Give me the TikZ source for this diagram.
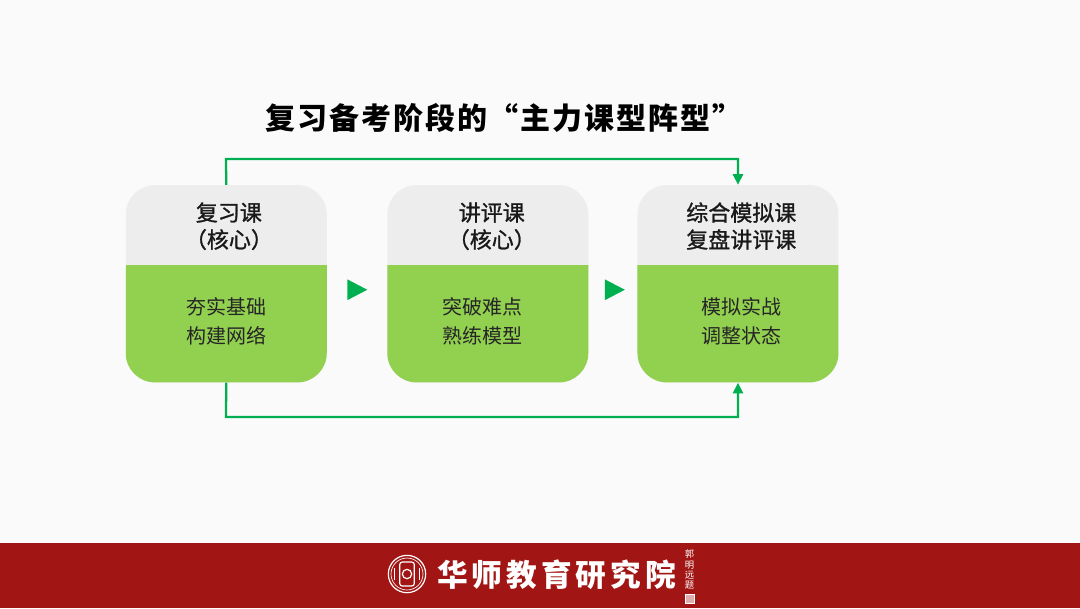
\documentclass[tikz,border=0pt]{standalone}
\usepackage{fontspec}
\usepackage{xcolor}
\setmainfont{Noto Sans CJK SC}
\newfontfamily\headfont[FakeBold=1.2]{Noto Sans CJK SC}
\usetikzlibrary{arrows.meta, shapes.geometric, positioning}
\definecolor{pagebg}{HTML}{FAFAFA}
\definecolor{headgray}{HTML}{EDEDED}
\definecolor{bodygreen}{HTML}{92D050}
\definecolor{linegreen}{HTML}{00B050}
\definecolor{footred}{HTML}{A11614}

\begin{document}
\begin{tikzpicture}[x=0.75pt,y=-0.75pt,>={Triangle[length=8pt,width=7.5pt]},
  card/.style={rectangle,fill=headgray,rounded corners=22pt,minimum width=150.75pt,minimum height=148pt,inner sep=0pt,
  path picture={\fill[bodygreen,sharp corners] ([yshift=-60pt,xshift=-1pt]path picture bounding box.north west) rectangle ([xshift=1pt,yshift=-1pt]path picture bounding box.south east);}},
  headtext/.style={align=center,font=\headfont\fontsize{16.5pt}{20.25pt}\selectfont,text=black!90,inner sep=0pt},
  bodytext/.style={align=center,font=\fontsize{15pt}{21.75pt}\selectfont,text=black!85,inner sep=0pt},
  playmark/.style={isosceles triangle,isosceles triangle apex angle=55,fill=linegreen,inner sep=0pt,minimum height=15pt,minimum width=15.5pt},
  link/.style={->,draw=linegreen,line width=1.7pt},
  logoline/.style={draw=white,line width=0.9pt}]
  % page and footer
  \fill[pagebg] (0,0) rectangle (1080,608);
  \node[rectangle,fill=footred,minimum width=810pt,minimum height=48.75pt,inner sep=0pt] (Foot) at (540,575.5) {};
  \node[font=\fontsize{23pt}{23pt}\selectfont\bfseries,text=white,inner sep=0pt] (Org) at (556.5,575) {\addfontfeature{LetterSpace=13}华师教育研究院};
  \node[circle,logoline,minimum size=28pt,inner sep=0pt] (Logo) at (407,574) {};
  \node[circle,draw=white,line width=0.5pt,minimum size=24pt,inner sep=0pt] (LogoRing) at (Logo) {};
  \node[rectangle,rounded corners=2pt,logoline,minimum width=11pt,minimum height=18pt,inner sep=0pt] (LogoWin) at (Logo) {};
  \node[circle,logoline,minimum size=7pt,inner sep=0pt] (LogoEye) at (Logo) {};
  \node[rectangle,fill=white,minimum width=1pt,minimum height=9pt,inner sep=0pt] (LogoBarL) [left=2.5pt of LogoWin] {};
  \node[rectangle,fill=white,minimum width=1pt,minimum height=9pt,inner sep=0pt] (LogoBarR) [right=2.5pt of LogoWin] {};
  \node[font=\fontsize{7pt}{7.6pt}\selectfont,text=white,align=center,inner sep=0pt] (Sign) at (689.5,569.5) {郭\\明\\远\\题};
  \node[rectangle,draw=white,line width=0.4pt,fill=white!65!footred,minimum size=6.5pt,inner sep=0pt] (Seal) at (690,598.5) {};

  \node[font=\fontsize{22.5pt}{26pt}\selectfont\bfseries,text=black,inner sep=0pt] (Title) at (504,118) {\addfontfeature{LetterSpace=6.4}复习备考阶段的“主力课型阵型”};

  % three cards
  \node[card] (Review) at (226.25,283.75) {};
  \node[card] (Comment) [right=45pt of Review] {};
  \node[card] (Mock) [right=36.5pt of Comment] {};

  \node[headtext] (ReviewH) [below=13pt of Review.north,xshift=2pt] {复习课\\（核心）};
  \node[headtext] (CommentH) [below=13pt of Comment.north,xshift=3pt] {讲评课\\（核心）};
  \node[headtext] (MockH) [below=13pt of Mock.north,xshift=2.5pt] {综合模拟课\\复盘讲评课};
  \node[bodytext] (ReviewB) [above=28pt of Review.south] {夯实基础\\构建网络};
  \node[bodytext] (CommentB) [above=28pt of Comment.south,xshift=-4pt] {突破难点\\熟练模型};
  \node[bodytext] (MockB) [above=28pt of Mock.south,xshift=2.5pt] {模拟实战\\调整状态};

  \node[playmark] (StepA) [right=15pt of Review,yshift=-4.5pt] {};
  \node[playmark] (StepB) [right=12pt of Comment,yshift=-4.5pt] {};

  \coordinate (UpperBend) at (226,159);
  \coordinate (LowerBend) at (226,417);
  \draw[link] (Review.north) -- (UpperBend) -| (Mock.north);
  \draw[link] (Review.south) -- (LowerBend) -| (Mock.south);
\end{tikzpicture}
\end{document}
